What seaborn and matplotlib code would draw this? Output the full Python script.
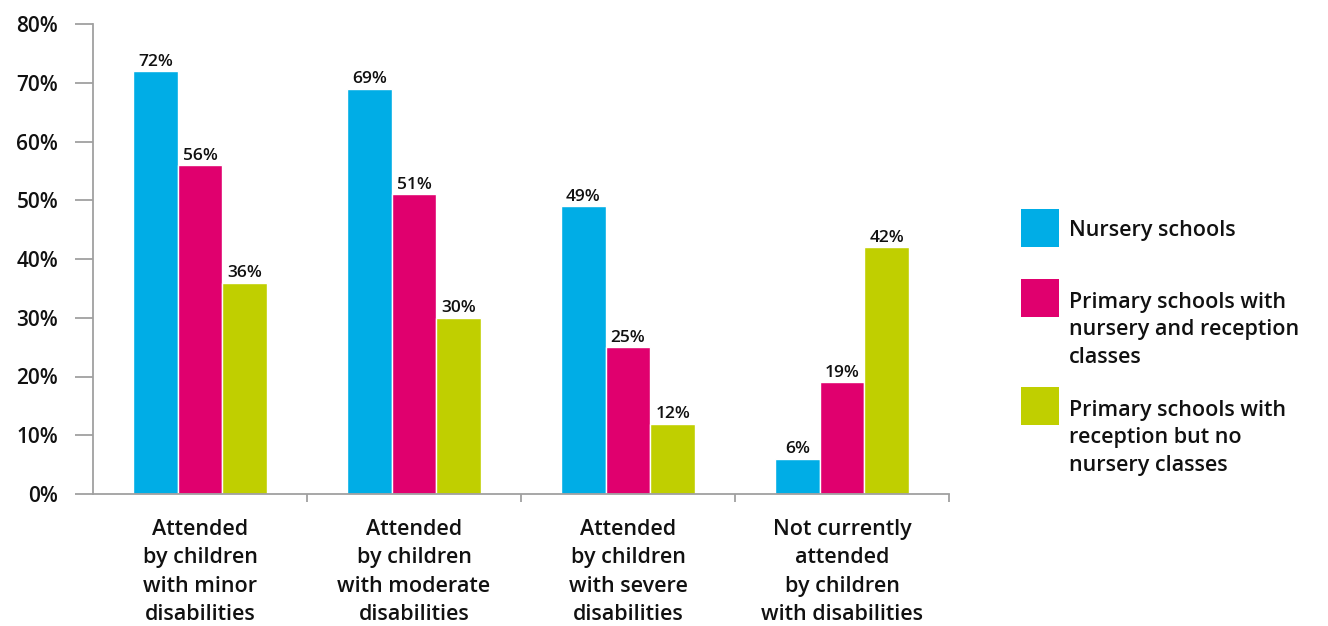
import pandas as pd
import matplotlib.pyplot as plt
from matplotlib.patches import Rectangle
import seaborn as sns

categories = ['Attended\nby children\nwith minor\ndisabilities',
              'Attended\nby children\nwith moderate\ndisabilities',
              'Attended\nby children\nwith severe\ndisabilities',
              'Not currently\nattended\nby children\nwith disabilities']
school_types = ['Nursery schools',
                'Primary schools with\nnursery and reception\nclasses',
                'Primary schools with\nreception but no\nnursery classes']
nursery = [72, 69, 49, 6]
primary_nursery = [56, 51, 25, 19]
primary_reception = [36, 30, 12, 42]
colors = ['#00ADE6', '#E0006E', '#C0CF00']

rows = []
for vals, st in zip([nursery, primary_nursery, primary_reception], school_types):
    for c, v in zip(categories, vals):
        rows.append({'category': c, 'school': st, 'pct': v})
df = pd.DataFrame(rows)

sns.set_style('white')
plt.rcParams['font.family'] = ['Open Sans', 'DejaVu Sans']
plt.rcParams['font.weight'] = 'semibold'
plt.rcParams['text.color'] = '#111111'

W, H = 1328, 626
fig = plt.figure(figsize=(W / 100, H / 100), dpi=100)
ax = fig.add_axes([93 / W, 1 - 494 / H, 856 / W, 470 / H])
sns.barplot(data=df, x='category', y='pct', hue='school', palette=colors,
            width=0.626, saturation=1, ax=ax, legend=False)

for cont in ax.containers:
    ax.bar_label(cont, labels=[f'{int(v)}%' for v in cont.datavalues],
                 fontsize=12.5, padding=1)

ax.set_ylim(0, 80)
ax.set_xlim(-0.5, 3.5)
ax.set_yticks(range(0, 81, 10))
ax.set_yticklabels([f'{t}%' for t in range(0, 81, 10)], fontsize=15)
ax.tick_params(axis='x', length=0, labelsize=15.5, pad=18, labelcolor='#111111')
ax.tick_params(axis='y', length=13, width=1.3, color='#a0a0a0', left=True,
               pad=12, labelcolor='#111111')
for lab in ax.get_xticklabels():
    lab.set_linespacing(1.46)
ax.set_xticks([0.5, 1.5, 2.5, 3.5], minor=True)
ax.tick_params(axis='x', which='minor', bottom=True, length=6, width=1.3, color='#a0a0a0')
ax.set_xlabel('')
ax.set_ylabel('')
for s in ['top', 'right']:
    ax.spines[s].set_visible(False)
for s in ['left', 'bottom']:
    ax.spines[s].set_color('#a0a0a0')
    ax.spines[s].set_linewidth(1.3)

# legend: square aligned with the first text line
sq_tops = [209, 279, 387]
pitch = 28.3
for top, col, lab in zip(sq_tops, colors, school_types):
    fig.add_artist(Rectangle((1021 / W, 1 - (top + 38) / H), 38 / W, 38 / H,
                             transform=fig.transFigure, color=col, lw=0))
    n = lab.count('\n')
    fig.text(1069 / W, 1 - (top + 27 + n * pitch) / H, lab, fontsize=15.5,
             va='baseline', ha='left', linespacing=1.39)

fig.savefig('out.png', dpi=100)
